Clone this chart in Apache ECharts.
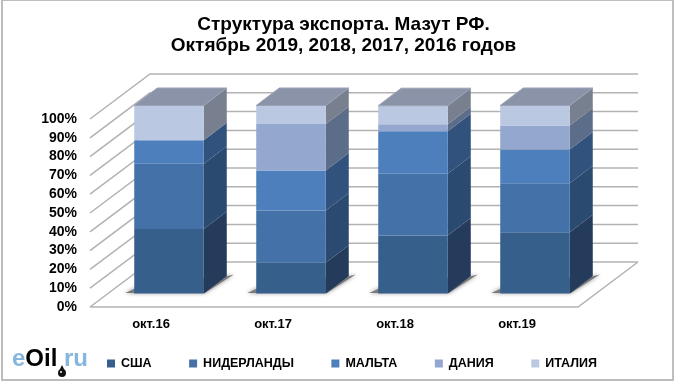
<!DOCTYPE html>
<html>
<head>
<meta charset="utf-8">
<script src="https://cdn.jsdelivr.net/npm/echarts@6/dist/echarts.min.js"></script>
<style>
  html, body { margin: 0; padding: 0; background: #fff; }
  #chart { width: 680px; height: 385px; }
</style>
</head>
<body>
<div id="chart"></div>
<script>
const categories = ['окт.16', 'окт.17', 'окт.18', 'окт.19'];
const ticks = [0, 10, 20, 30, 40, 50, 60, 70, 80, 90, 100];

// доли, %
const usa = [34.3, 16.4, 30.8, 32.6];
const netherlands = [34.7, 27.8, 32.9, 26.0];
const malta = [12.5, 21.2, 22.6, 18.0];
const denmark = [0, 24.7, 3.7, 12.8];
const italy = [18.5, 9.9, 9.9, 10.6];

const seriesNames = ['США', 'НИДЕРЛАНДЫ', 'МАЛЬТА', 'ДАНИЯ', 'ИТАЛИЯ'];
const seriesValues = [usa, netherlands, malta, denmark, italy];
const frontColors = ['#375f8c', '#4472a8', '#4d7fbc', '#93a7cf', '#bac8e1'];
const sideColors = ['#243b5c', '#2b4a70', '#30527c', '#5c6d8a', '#787f8e'];
const topColor = '#8a93a8';

// псевдо-3D: сдвиг задней стенки и столбиков относительно передней плоскости
const WALL_DX = 60, WALL_DY = 45;
const BAR_DX = 18, BAR_DY = 13.5;
const SIDE_DX = 23, SIDE_DY = 17.5;
const BAR_WIDTH = 0.57;

const font = '"Liberation Sans", Arial, sans-serif';

function renderWall(params, api) {
    const band = api.size([1, 0])[0];
    const p = api.coord([0, api.value(1)]);
    const x0 = p[0] - band / 2;
    const x1 = x0 + band * categories.length;
    const style = { stroke: '#b2b2b2', lineWidth: 1.5, fill: null };
    const children = [{
        type: 'polyline',
        shape: { points: [[x0, p[1]], [x0 + WALL_DX, p[1] - WALL_DY], [x1 + WALL_DX, p[1] - WALL_DY]] },
        style
    }];
    if (api.value(1) === 0) {
        children.push({
            type: 'polyline',
            shape: { points: [[x0, p[1]], [x1, p[1]], [x1 + WALL_DX, p[1] - WALL_DY]] },
            style
        });
    }
    return { type: 'group', children };
}

function renderShadow(params, api) {
    const band = api.size([1, 0])[0];
    const p = api.coord([api.value(0), 0]);
    const x0 = p[0] + BAR_DX - band * BAR_WIDTH / 2;
    const x1 = x0 + band * BAR_WIDTH;
    const y = p[1] - BAR_DY;
    return {
        type: 'polygon',
        shape: { points: [[x0 - 9, y - 0.5], [x1 + 1, y - 0.5], [x1 + 30, y - 19], [x1 + 22, y - 17], [x0 + 12, y - 10]] },
        style: { fill: '#7a7a7a', shadowBlur: 4, shadowColor: '#8a8a8a' }
    };
}

function makeRenderBar(idx, isTop) {
    return function (params, api) {
        const band = api.size([1, 0])[0];
        const a = api.coord([api.value(0), api.value(1)]);
        const b = api.coord([api.value(0), api.value(2)]);
        const x0 = a[0] + BAR_DX - band * BAR_WIDTH / 2;
        const x1 = x0 + band * BAR_WIDTH;
        const y0 = a[1] - BAR_DY;
        const y1 = b[1] - BAR_DY;
        const children = [
            {
                type: 'polygon',
                shape: { points: [[x1, y0], [x1 + SIDE_DX, y0 - SIDE_DY], [x1 + SIDE_DX, y1 - SIDE_DY], [x1, y1]] },
                style: { fill: sideColors[idx] }
            },
            {
                type: 'rect',
                shape: { x: x0, y: y1, width: x1 - x0, height: y0 - y1 },
                style: { fill: frontColors[idx] }
            }
        ];
        if (isTop) {
            children.push({
                type: 'polygon',
                shape: { points: [[x0, y1], [x0 + SIDE_DX, y1 - SIDE_DY], [x1 + SIDE_DX, y1 - SIDE_DY], [x1, y1]] },
                style: { fill: topColor, stroke: '#9aa3b6', lineWidth: 1 }
            });
        }
        return { type: 'group', children };
    };
}

// накопленные границы сегментов
const running = categories.map(() => 0);
const barSeries = seriesNames.map((name, idx) => {
    const data = categories.map((c, i) => {
        const start = running[i];
        running[i] += seriesValues[idx][i];
        return [i, start, running[i]];
    });
    return {
        type: 'custom',
        name,
        z: 5,
        data,
        encode: { x: 0, y: [1, 2] },
        itemStyle: { color: frontColors[idx] },
        renderItem: makeRenderBar(idx, idx === seriesNames.length - 1)
    };
});

const chart = echarts.init(document.getElementById('chart'), null, { renderer: 'canvas' });
chart.setOption({
    animation: false,
    backgroundColor: '#fff',
    title: {
        text: 'Структура экспорта. Мазут РФ.\nОктябрь 2019, 2018, 2017, 2016 годов',
        left: 338.5,
        top: 9,
        textAlign: 'center',
        textStyle: { fontFamily: font, fontSize: 19, fontWeight: 'bold', color: '#000', lineHeight: 21 }
    },
    grid: { left: 90, width: 488, top: 119, height: 188 },
    xAxis: {
        type: 'category',
        data: categories,
        axisLine: { show: false },
        axisTick: { show: false },
        axisLabel: { color: '#000', fontFamily: font, fontSize: 13, fontWeight: 'bold', margin: 11 }
    },
    yAxis: {
        type: 'value',
        min: 0,
        max: 100,
        interval: 10,
        splitLine: { show: false },
        axisLine: { show: false },
        axisTick: { show: false },
        axisLabel: { color: '#000', fontFamily: font, fontSize: 14, fontWeight: 'bold', margin: 13, formatter: '{value}%' }
    },
    legend: {
        left: 107,
        top: 357,
        padding: 0,
        icon: 'rect',
        itemWidth: 8,
        itemHeight: 8,
        itemGap: 37.5,
        data: seriesNames,
        textStyle: { color: '#000', fontFamily: font, fontSize: 12.5, fontWeight: 'bold', padding: [0, 0, 0, 1] }
    },
    series: [
        { type: 'custom', silent: true, z: 1, data: ticks.map(v => [0, v]), encode: { x: 0, y: 1 }, renderItem: renderWall },
        { type: 'custom', silent: true, z: 2, data: categories.map((c, i) => [i, 0]), encode: { x: 0, y: 1 }, renderItem: renderShadow },
        ...barSeries
    ],
    graphic: [
        { type: 'rect', silent: true, z: 0, shape: { x: 2, y: 0, width: 671, height: 380 }, style: { fill: null, stroke: '#bdbdbd', lineWidth: 2 } },
        {
            type: 'text', silent: true, left: 12, top: 347, z: 10,
            style: {
                text: '{a|e}{b|Oil}{c| }{a|ru}',
                rich: {
                    a: { fontFamily: font, fontWeight: 'bold', fontSize: 24, fill: '#86b6dd' },
                    b: { fontFamily: font, fontWeight: 'bold', fontSize: 24, fill: '#000' },
                    c: { fontFamily: font, fontSize: 24, fill: '#000' }
                }
            }
        },
        { type: 'circle', silent: true, z: 10, shape: { cx: 62, cy: 373, r: 4 }, style: { fill: '#111' } },
        { type: 'polygon', silent: true, z: 10, shape: { points: [[59, 371], [62, 365], [65, 371]] }, style: { fill: '#111' } },
        { type: 'circle', silent: true, z: 11, shape: { cx: 61, cy: 372, r: 1 }, style: { fill: '#fff' } }
    ]
});
</script>
</body>
</html>
